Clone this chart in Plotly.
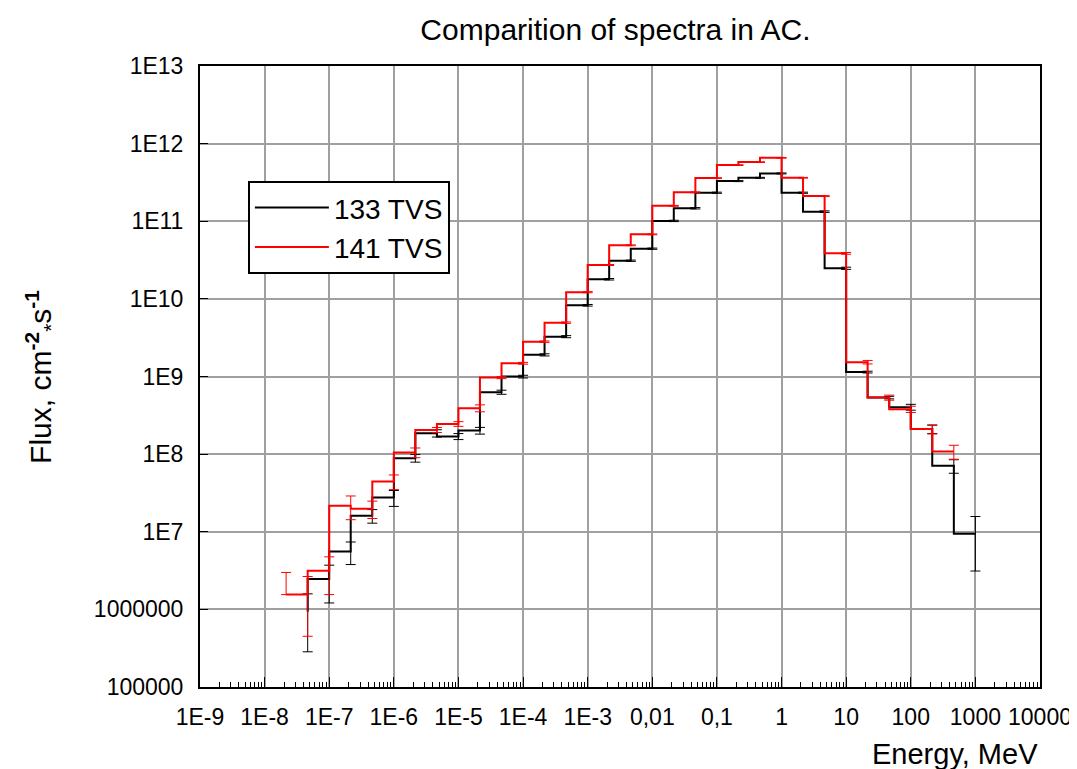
import plotly.graph_objects as go

# Bin energies (MeV) — log-spaced, 3 per decade
energy_red = [2.15e-8, 4.64e-8, 1e-7, 2.15e-7, 4.64e-7, 1e-6, 2.15e-6, 4.64e-6,
              1e-5, 2.15e-5, 4.64e-5, 1e-4, 2.15e-4, 4.64e-4, 1e-3, 2.15e-3,
              4.64e-3, 0.01, 0.0215, 0.0464, 0.1, 0.215, 0.464, 1, 2.15, 4.64,
              10, 21.5, 46.4, 100, 215, 464]
energy_black = [4.64e-8, 1e-7, 2.15e-7, 4.64e-7, 1e-6, 2.15e-6, 4.64e-6,
                1e-5, 2.15e-5, 4.64e-5, 1e-4, 2.15e-4, 4.64e-4, 1e-3, 2.15e-3,
                4.64e-3, 0.01, 0.0215, 0.0464, 0.1, 0.215, 0.464, 1, 2.15, 4.64,
                10, 21.5, 46.4, 100, 215, 464, 1000]

# 141 TVS (red)
flux_red = [1.55e6, 1.55e6, 3.15e6, 2.16e7, 1.98e7, 4.44e7, 1.05e8, 2.05e8,
            2.45e8, 3.91e8, 9.68e8, 1.48e9, 2.81e9, 4.94e9, 1.22e10, 2.73e10,
            4.9e10, 6.78e10, 1.58e11, 2.36e11, 3.6e11, 5.29e11, 5.78e11, 6.56e11,
            3.63e11, 2.11e11, 3.86e10, 1.53e9, 5.35e8, 3.79e8, 2.1e8, 1.08e8]
err_red_plus = [1.44e6, 1.1e6, 1.6e6, 7.3e6, 5e6, 9.5e6, 1.5e7, 1.5e7,
                1.7e7, 4e7, 3e7, 4e7, 6e7, 1e8, 2e8, 4e8,
                6e8, 8e8, 2e9, 3e9, 4e9, 6e9, 6e9, 7e9,
                4e9, 3e9, 1e9, 8e7, 4e7, 3.5e7, 2.8e7, 2.2e7]
err_red_minus = [0, 1.1e6, 1.6e6, 7.3e6, 5e6, 9.5e6, 1.5e7, 1.5e7,
                 1.7e7, 4e7, 3e7, 4e7, 6e7, 1e8, 2e8, 4e8,
                 6e8, 8e8, 2e9, 3e9, 4e9, 6e9, 6e9, 7e9,
                 4e9, 3e9, 1e9, 8e7, 4e7, 3.5e7, 2.8e7, 2.2e7]

# 133 TVS (black)
flux_black = [9.34e5, 2.46e6, 5.58e6, 1.61e7, 2.76e7, 8.88e7, 1.86e8, 1.69e8,
              2.01e8, 6.28e8, 9.97e8, 1.9e9, 3.26e9, 8.27e9, 1.79e10, 3.1e10,
              4.43e10, 1.01e11, 1.47e11, 2.33e11, 3.29e11, 3.63e11, 4.13e11,
              2.33e11, 1.33e11, 2.48e10, 1.14e9, 5.35e8, 4.03e8, 2.1e8,
              7.07e7, 9.42e6]
err_black = [6.5e5, 1.25e6, 1.8e6, 3.2e6, 6.4e6, 1e7, 2e7, 1.5e7,
             2e7, 3.8e7, 4e7, 6e7, 1e8, 2e8, 4e8, 6e8,
             8e8, 2e9, 3e9, 4e9, 5e9, 5e9, 6e9,
             4e9, 3e9, 8e8, 3e7, 2e7, 3.5e7, 2.6e7,
             1.4e7, 6.3e6]

x_tickvals = [1e-9, 1e-8, 1e-7, 1e-6, 1e-5, 1e-4, 1e-3, 1e-2, 1e-1, 1, 10, 100, 1000, 10000]
x_ticktext = ["1E-9", "1E-8", "1E-7", "1E-6", "1E-5", "1E-4", "1E-3", "0,01", "0,1",
              "1", "10", "100", "1000", "10000"]
y_tickvals = [1e5, 1e6, 1e7, 1e8, 1e9, 1e10, 1e11, 1e12, 1e13]
y_ticktext = ["100000", "1000000", "1E7", "1E8", "1E9", "1E10", "1E11", "1E12", "1E13"]

FONT = "Liberation Sans, Arial, sans-serif"

fig = go.Figure()
fig.add_trace(go.Scatter(
    x=energy_black, y=flux_black, mode="lines", name="133 TVS",
    line=dict(color="black", width=2, shape="vh"),
    error_y=dict(type="data", array=err_black, visible=True,
                 color="black", thickness=1, width=5),
))
fig.add_trace(go.Scatter(
    x=energy_red, y=flux_red, mode="lines", name="141 TVS",
    line=dict(color="red", width=2, shape="vh"),
    error_y=dict(type="data", symmetric=False, array=err_red_plus,
                 arrayminus=err_red_minus, visible=True,
                 color="red", thickness=1, width=5),
))

minor_x = [m * 10.0 ** e for e in range(-9, 4) for m in range(2, 10)]

fig.update_xaxes(
    type="log", range=[-9, 4], automargin=False,
    tickmode="array", tickvals=x_tickvals, ticktext=x_ticktext, tickangle=0,
    ticks="inside", ticklen=10, tickwidth=1, tickcolor="black",
    showgrid=True, gridcolor="#a0a0a0", gridwidth=1.5,
    showline=True, linecolor="black", linewidth=2, mirror=True,
    zeroline=False,
    tickfont=dict(family=FONT, size=23, color="black"),
    ticklabelstandoff=8, ticklabeloverflow="allow",
    minor=dict(tickmode="array", tickvals=minor_x, ticks="inside", ticklen=5,
               tickcolor="black", showgrid=False),
)
fig.update_yaxes(
    type="log", range=[5, 13], automargin=False,
    tickmode="array", tickvals=y_tickvals, ticktext=y_ticktext,
    ticks="inside", ticklen=8, tickwidth=1, tickcolor="black",
    showgrid=True, gridcolor="#a0a0a0", gridwidth=1.5,
    showline=True, linecolor="black", linewidth=2, mirror=True,
    zeroline=False,
    tickfont=dict(family=FONT, size=23, color="black"),
    ticklabelstandoff=10, ticklabeloverflow="allow",
)

fig.update_layout(
    width=1069, height=761,
    margin=dict(l=192, r=37, t=58, b=82, autoexpand=False),
    paper_bgcolor="white", plot_bgcolor="white",
    font=dict(family=FONT, color="black"),
    title=dict(text="Comparition of spectra in AC.", x=0.4946, xref="paper",
               xanchor="center", y=1 - 21 / 761, yref="container", yanchor="middle",
               font=dict(family=FONT, size=30, color="black")),
    legend=dict(x=0.057, y=0.815, xanchor="left", yanchor="top",
                bgcolor="white", bordercolor="black", borderwidth=2,
                font=dict(family=FONT, size=28, color="black"),
                itemwidth=74),
    showlegend=True,
    annotations=[
        dict(text="Energy, MeV", xref="paper", yref="paper", x=1.0, y=-0.108,
             xanchor="right", yanchor="middle", showarrow=False,
             font=dict(family=FONT, size=29, color="black")),
        dict(text="Flux, cm<sup><b>-2</b></sup><sub>*</sub>s<sup><b>-1</b></sup>",
             xref="paper", yref="paper", x=-0.19, y=0.5, textangle=-90,
             xanchor="center", yanchor="middle", showarrow=False,
             font=dict(family=FONT, size=30, color="black")),
    ],
)

fig.write_html("out.html")
